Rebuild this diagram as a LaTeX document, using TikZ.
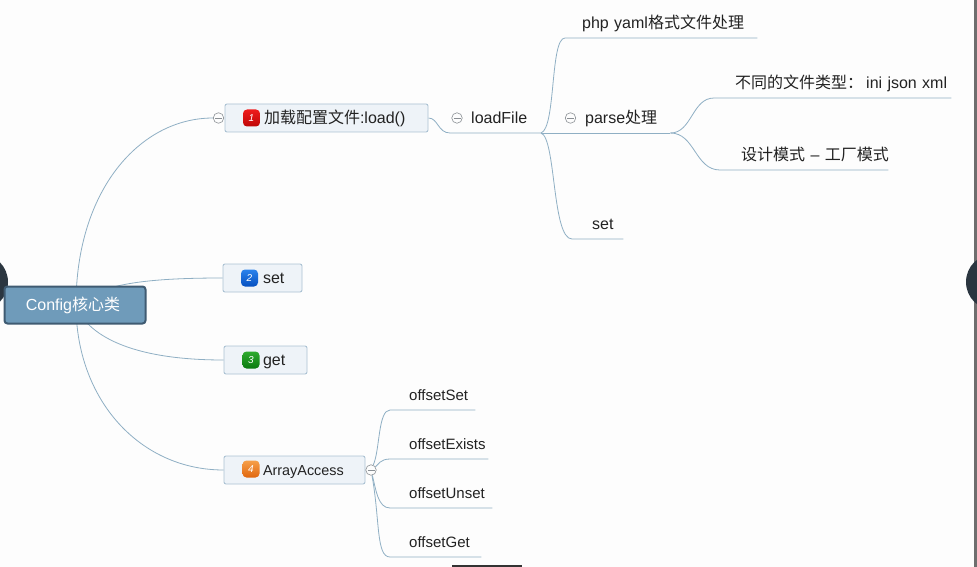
\documentclass[tikz,border=0pt]{standalone}
\usepackage{fontspec}
\setmainfont{Liberation Sans}
\newfontfamily\cjk{Noto Sans CJK SC}
\usetikzlibrary{backgrounds}
\definecolor{paper}{HTML}{FDFDFD}
\definecolor{wire}{HTML}{8FAFC4}
\definecolor{rootfill}{HTML}{6F9BBA}
\definecolor{rootedge}{HTML}{3F5B72}
\definecolor{boxfill}{HTML}{EEF3F8}
\definecolor{boxedge}{HTML}{ABC2D3}
\definecolor{inkdark}{HTML}{222222}
\definecolor{knobedge}{HTML}{8A8F94}
\definecolor{disc}{HTML}{2B3640}
\definecolor{strip}{HTML}{6E6E6E}
\definecolor{bar}{HTML}{333333}
\definecolor{redtop}{HTML}{EE1C1C}
\definecolor{redlow}{HTML}{BE0606}
\definecolor{bluetop}{HTML}{2A82EC}
\definecolor{bluelow}{HTML}{0650C0}
\definecolor{greentop}{HTML}{2EAA2E}
\definecolor{greenlow}{HTML}{0A7A10}
\definecolor{orangetop}{HTML}{F6A04A}
\definecolor{orangelow}{HTML}{E0660E}
\tikzset{
  conn/.style={draw=wire,line width=.8pt},
  rootbox/.style={rounded corners=3pt,draw=rootedge,fill=rootfill,line width=2pt,minimum width=141pt,minimum height=37pt,inner sep=0pt,text height=11pt,text depth=0pt,text=white,font=\fontsize{16}{18}\selectfont},
  topic/.style={rounded corners=2pt,draw=boxedge,fill=boxfill,line width=.9pt,inner sep=0pt,minimum height=28pt,text height=11pt,text depth=0pt,align=left,text=inkdark,font=\fontsize{16}{18}\selectfont},
  leaf/.style={anchor=south west,inner sep=0pt,minimum height=30pt,text height=11pt,text depth=0pt,align=left,text=inkdark,font=\fontsize{16}{18}\selectfont},
  small/.style={leaf,font=\fontsize{15}{18}\selectfont},
  badge/.style={rounded corners=4pt,minimum size=17pt,inner sep=0pt,text=white,font=\fontsize{10}{10}\selectfont\itshape},
  knob/.style={circle,draw=knobedge,fill=paper,line width=.6pt,minimum size=10.5pt,inner sep=0pt,path picture={\draw[knobedge,line width=.6pt] ([xshift=-3.5pt]path picture bounding box.center)--([xshift=3.5pt]path picture bounding box.center);}}
}
\begin{document}
\begin{tikzpicture}[x=1pt,y=-1pt]
\useasboundingbox (0,0) rectangle (977,567);
% centre and first level
\node[rootbox] (config) at (75,305) {Config{\cjk 核心类}\hspace*{4pt}};
\node[topic,text width=203pt] (load) at (326.5,118) {\hspace*{39pt}{\cjk 加载配置文件}:load()};
\node[topic,text width=79pt] (set) at (262.5,278) {\hspace*{40pt}set};
\node[topic,text width=83pt] (get) at (265.5,360) {\hspace*{39pt}get};
\node[topic,text width=141pt,font=\fontsize{14.4}{18}\selectfont] (arr) at (294.5,470) {\hspace*{39pt}ArrayAccess};
\node[badge,top color=redtop,bottom color=redlow] (one) at (251.5,118) {1};
\node[badge,top color=bluetop,bottom color=bluelow] (two) at (249.5,278) {2};
\node[badge,top color=greentop,bottom color=greenlow] (three) at (251,360) {3};
\node[badge,top color=orangetop,bottom color=orangelow] (four) at (251,469) {4};
\node[knob] (knobload) at (218.5,118) {};
\node[knob] (knobarr) at (371,470) {};
% load branch
\node[leaf,text width=91pt] (loadfile) at (450,133) {\hspace*{21pt}loadFile};
\node[knob] (knobfile) at (457,118) {};
\node[leaf,text width=192pt] (php) at (565,38) {\hspace*{17pt}php yaml{\cjk 格式文件处理}};
\node[leaf,text width=129pt] (parse) at (541,133) {\hspace*{44pt}parse{\cjk 处理}};
\node[knob] (knobparse) at (570.5,118) {};
\node[leaf,text width=51pt] (setb) at (572,239) {\hspace*{20pt}set};
\node[leaf,text width=237pt] (types) at (714,98) {\hspace*{21pt}{\cjk 不同的文件类型：}\hspace*{3pt}ini json xml};
\node[leaf,text width=168pt] (factory) at (720,170) {\hspace*{21pt}\mbox{{\cjk 设计模式} – {\cjk 工厂模式}}};
% array branch
\node[small,text width=85pt] (oset) at (390,410) {\hspace*{19pt}offsetSet};
\node[small,text width=98pt] (oexists) at (390,459) {\hspace*{19pt}offsetExists};
\node[small,text width=102pt] (ounset) at (390,508) {\hspace*{19pt}offsetUnset};
\node[small,text width=91pt] (oget) at (390,557) {\hspace*{19pt}offsetGet};
% connectors, under the boxes
\begin{scope}[on background layer]
\fill[paper] (0,0) rectangle (977,567);
\fill[strip] (974,0) rectangle (977,567);
\fill[bar] (452,565) rectangle (522,567);
\fill[disc] (-20,282) circle (28);
\fill[disc] (994,282) circle (28);
\draw[conn] (config.center) ++(1,0) .. controls (76,190) and (140,118) .. (knobload.west);
\draw[conn] (config.center) .. controls (100,285) and (140,278) .. (set.west);
\draw[conn] (config.center) .. controls (90,340) and (140,360) .. (get.west);
\draw[conn] (config.center) ++(1,0) .. controls (76,400) and (140,470) .. (arr.west);
\draw[conn] (load.east) .. controls (438,118) and (438,133) .. (loadfile.south west) -- (loadfile.south east);
\draw[conn] (parse.south west) -- (parse.south east);
\draw[conn] (parse.south west) .. controls (556,128) and (550,38) .. (php.south west) -- (php.south east);
\draw[conn] (parse.south west) .. controls (556,138) and (552,239) .. (setb.south west) -- (setb.south east);
\draw[conn] (parse.south east) .. controls (692,133) and (692,98) .. (types.south west) -- (types.south east);
\draw[conn] (parse.south east) .. controls (695,133) and (695,170) .. (factory.south west) -- (factory.south east);
\draw[conn] (knobarr) .. controls (380,450) and (378,410) .. (oset.south west) -- (oset.south east);
\draw[conn] (knobarr) .. controls (378,465) and (380,459) .. (oexists.south west) -- (oexists.south east);
\draw[conn] (knobarr) .. controls (376,490) and (378,508) .. (ounset.south west) -- (ounset.south east);
\draw[conn] (knobarr) .. controls (380,520) and (376,557) .. (oget.south west) -- (oget.south east);
\end{scope}
\end{tikzpicture}
\end{document}
